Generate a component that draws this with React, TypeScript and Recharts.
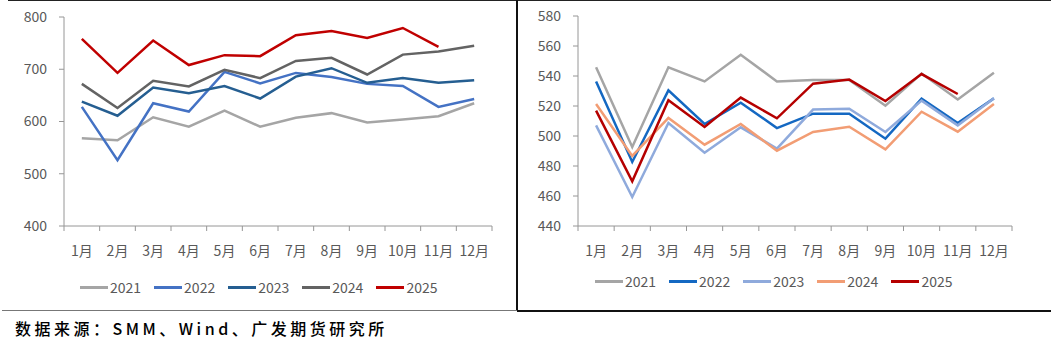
import React from 'react';
import { LineChart, Line, XAxis, YAxis } from 'recharts';

const months = ['1月', '2月', '3月', '4月', '5月', '6月', '7月', '8月', '9月', '10月', '11月', '12月'];
const years = ['2021', '2022', '2023', '2024', '2025'];

// left panel
const left2021 = [568, 564, 608, 590, 621, 590, 607, 616, 598, 604, 610, 635];
const left2022 = [628, 526, 635, 619, 695, 673, 693, 685, 672, 668, 628, 643];
const left2023 = [638, 611, 665, 654, 668, 644, 686, 702, 674, 683, 674, 679];
const left2024 = [672, 626, 678, 667, 699, 683, 716, 722, 690, 728, 734, 745];
const left2025 = [758, 693, 755, 708, 727, 725, 765, 773, 760, 779, 743, null];
const leftTicks = [400, 500, 600, 700, 800];
const leftColors = ['#a5a5a5', '#4472c4', '#255e91', '#636363', '#c00000'];

// right panel
const right2021 = [545.8, 492.7, 545.8, 536.4, 554.2, 536.4, 537.3, 537.3, 520.2, 541.6, 524.4, 542.2];
const right2022 = [536.4, 482.7, 530.4, 508, 522.2, 505.3, 514.9, 514.9, 498.2, 524.9, 508.7, 525.1];
const right2023 = [507.1, 459.3, 508.7, 488.9, 505.8, 491.6, 517.6, 518.2, 502.7, 523.6, 507.1, 525.1];
const right2024 = [521.3, 486.7, 512, 494.2, 508, 490.2, 502.7, 506.2, 491.1, 516.2, 502.9, 521.3];
const right2025 = [516.9, 469.8, 523.8, 506, 525.6, 511.8, 534.9, 537.6, 523.3, 541.3, 528, null];
const rightTicks = [440, 460, 480, 500, 520, 540, 560, 580];
const rightColors = ['#a5a5a5', '#1468c2', '#8faadc', '#f29d74', '#b50000'];

const font = '"Noto Sans CJK SC", "Noto Sans", sans-serif';
const axisColor = '#969696';
const textColor = '#595959';

const xTicks = Array.from({ length: 25 }, (_, i) => i / 2);

function buildRows(series: (number | null)[][]) {
  return months.map((m, i) => {
    const row: any = { x: i + 0.5, month: m };
    years.forEach((y, k) => {
      row['y' + y] = series[k][i];
    });
    return row;
  });
}

const leftRows = buildRows([left2021, left2022, left2023, left2024, left2025]);
const rightRows = buildRows([right2021, right2022, right2023, right2024, right2025]);

// integer positions get a tick mark, half positions get the month label
const MonthTick = (props: any) => {
  const { x, y, payload } = props;
  const v = payload.value;
  if (Number.isInteger(v)) {
    return <line x1={x} x2={x} y1={y} y2={y + 5} stroke={axisColor} strokeWidth={1} />;
  }
  return (
    <text x={x} y={y + 30} textAnchor="middle" fill={textColor} fontSize={14} fontFamily={font}>
      {months[Math.floor(v)]}
    </text>
  );
};

function LegendRow({ colors, left, top }: { colors: string[]; left: number; top: number }) {
  return (
    <div style={{ position: 'absolute', left, top, display: 'flex', alignItems: 'center', fontFamily: font, fontSize: 14, color: textColor }}>
      {years.map((y, i) => (
        <div key={y} style={{ display: 'flex', alignItems: 'center', marginRight: 13 }}>
          <div style={{ width: 28, height: 3, background: colors[i], marginRight: 2 }} />
          <span>{y}</span>
        </div>
      ))}
    </div>
  );
}

function Panel({ rows, colors, domain, ticks, width, margin, yWidth }: any) {
  return (
    <LineChart width={width} height={312} data={rows} margin={margin}>
      <XAxis
        dataKey="x"
        type="number"
        domain={[0, 12]}
        ticks={xTicks}
        interval={0}
        height={30}
        tick={<MonthTick />}
        tickLine={false}
        tickSize={0}
        tickMargin={0}
        stroke={axisColor}
        allowDecimals
      />
      <YAxis
        domain={domain}
        ticks={ticks}
        interval={0}
        width={yWidth}
        tickSize={5}
        tickMargin={12}
        stroke={axisColor}
        tick={{ fill: textColor, fontSize: 14, fontFamily: font }}
      />
      {years.map((y, i) => (
        <Line
          key={y}
          dataKey={'y' + y}
          stroke={colors[i]}
          strokeWidth={2.5}
          dot={false}
          isAnimationActive={false}
        />
      ))}
    </LineChart>
  );
}

export default function App() {
  return (
    <div style={{ position: 'absolute', left: 0, top: 0, width: 1051, height: 340, background: '#fff', overflow: 'hidden' }}>
      <div style={{ position: 'absolute', left: 0, top: 0 }}>
        <Panel rows={leftRows} colors={leftColors} domain={[400, 800]} ticks={leftTicks} width={517} yWidth={64} margin={{ top: 17, right: 25, left: 0, bottom: 56 }} />
      </div>
      <div style={{ position: 'absolute', left: 518, top: 0 }}>
        <Panel rows={rightRows} colors={rightColors} domain={[440, 580]} ticks={rightTicks} width={533} yWidth={60} margin={{ top: 16, right: 39, left: 0, bottom: 56 }} />
      </div>
      <LegendRow colors={leftColors} left={80} top={277} />
      <LegendRow colors={rightColors} left={595} top={271} />
      {/* frame */}
      <div style={{ position: 'absolute', left: 8, top: 0, width: 1043, height: 1, background: '#222' }} />
      <div style={{ position: 'absolute', left: 516, top: 0, width: 2, height: 311, background: '#111' }} />
      <div style={{ position: 'absolute', left: 2, top: 310, width: 515, height: 1, background: '#777' }} />
      <div style={{ position: 'absolute', left: 517, top: 310, width: 534, height: 2, background: '#111' }} />
      <div style={{ position: 'absolute', left: 15, top: 316, fontFamily: font, fontSize: 16, fontWeight: 500, letterSpacing: 3.5, color: '#000', whiteSpace: 'nowrap' }}>
        数据来源：SMM、Wind、广发期货研究所
      </div>
    </div>
  );
}
